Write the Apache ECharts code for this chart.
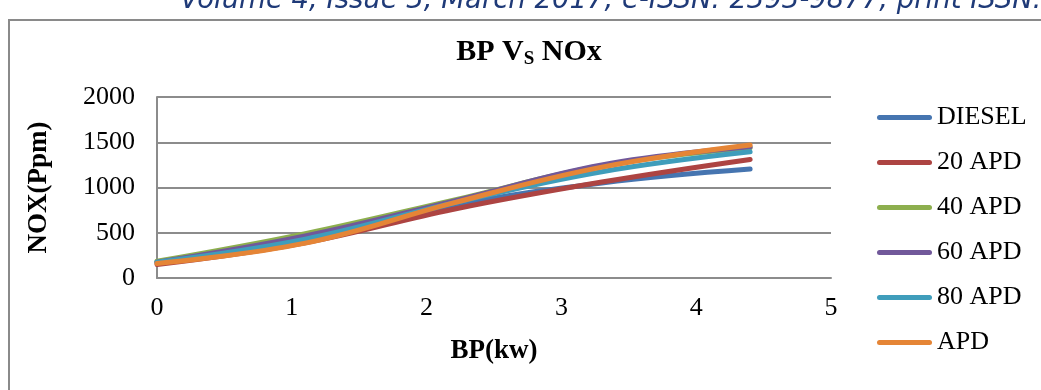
<!DOCTYPE html>
<html>
<head>
<meta charset="utf-8">
<title>BP Vs NOx</title>
<script src="https://cdn.jsdelivr.net/npm/echarts@6/dist/echarts.min.js"></script>
<style>
  html, body { margin: 0; padding: 0; background: #ffffff; }
  #chart { width: 1041px; height: 390px; }
</style>
</head>
<body>
<div id="chart"></div>
<script>
// Brake power (kW) at each load step
const bp = [0, 1.1, 2.2, 3.3, 4.4];

// NOx emissions (ppm) for each fuel blend
const diesel = [170, 420, 800, 1050, 1204];
const apd20  = [150, 390, 760, 1060, 1310];
const apd40  = [185, 490, 860, 1240, 1440];
const apd60  = [175, 465, 850, 1250, 1450];
const apd80  = [175, 430, 830, 1175, 1395];
const apd    = [160, 385, 830, 1225, 1470];

const seriesNames = ['DIESEL', '20 APD', '40 APD', '60 APD', '80 APD', 'APD'];
const seriesValues = [diesel, apd20, apd40, apd60, apd80, apd];
const seriesColors = ['#4675B0', '#AD4442', '#8DAF4E', '#71589A', '#3F9DBB', '#E58536'];

// Axis ticks
const xTicks = [0, 1, 2, 3, 4, 5];
const yTicks = [0, 500, 1000, 1500, 2000];

const serif = '"Liberation Serif", "Times New Roman", serif';
const gridGray = '#8c8c8c';

// Capsule-shaped legend key, like a thick line with round ends
const legendKey = 'path://M2.5,0 L52.5,0 A2.5,2.5 0 0 1 52.5,5 L2.5,5 A2.5,2.5 0 0 1 2.5,0 Z';

const chart = echarts.init(document.getElementById('chart'), null, { renderer: 'canvas' });

chart.setOption({
  animation: false,
  backgroundColor: '#ffffff',
  title: {
    text: 'BP V{s|S} NOx',
    left: 524,
    top: 30,
    textAlign: 'center',
    textStyle: {
      fontFamily: serif,
      fontWeight: 'bold',
      fontSize: 30,
      color: '#000',
      lineHeight: 34,
      rich: {
        s: {
          fontFamily: serif,
          fontWeight: 'bold',
          fontSize: 19,
          lineHeight: 34,
          padding: [15, 0, 0, 0]
        }
      }
    }
  },
  graphic: [
    {
      type: 'rect',
      shape: { x: 9, y: 20, width: 1100, height: 420 },
      style: { fill: 'none', stroke: '#8a8a8a', lineWidth: 2 },
      silent: true
    },
    {
      type: 'text',
      left: 180,
      top: -13,
      style: {
        text: 'Volume 4, Issue 3, March 2017, e-ISSN: 2393-9877, print ISSN: 2394-2444',
        font: 'italic 27.5px "DejaVu Sans", Verdana, sans-serif',
        fill: '#1F3A78'
      },
      silent: true
    }
  ],
  legend: {
    orient: 'vertical',
    left: 877,
    top: 104,
    padding: 0,
    itemWidth: 55,
    itemHeight: 5,
    itemGap: 18,
    icon: legendKey,
    data: seriesNames,
    textStyle: {
      fontFamily: serif,
      fontSize: 26,
      lineHeight: 27,
      color: '#000'
    }
  },
  grid: {
    left: 157,
    right: 210,
    top: 97,
    bottom: 112,
    containLabel: false
  },
  xAxis: {
    type: 'value',
    min: xTicks[0],
    max: xTicks[xTicks.length - 1],
    interval: 1,
    name: 'BP(kw)',
    nameLocation: 'middle',
    nameGap: 60,
    nameTextStyle: { fontFamily: serif, fontWeight: 'bold', fontSize: 27, color: '#000' },
    axisLine: { show: true, lineStyle: { color: gridGray, width: 2 } },
    axisTick: { show: false },
    splitLine: { show: false },
    axisLabel: {
      fontFamily: serif, fontSize: 26, color: '#000', margin: 17,
      formatter: (v) => String(v)
    }
  },
  yAxis: {
    type: 'value',
    min: yTicks[0],
    max: yTicks[yTicks.length - 1],
    interval: 500,
    name: 'NOX(Ppm)',
    nameLocation: 'middle',
    nameGap: 104,
    nameTextStyle: { fontFamily: serif, fontWeight: 'bold', fontSize: 27, color: '#000' },
    axisLine: { show: true, lineStyle: { color: gridGray, width: 2 } },
    axisTick: { show: false },
    splitLine: { show: true, lineStyle: { color: gridGray, width: 2 } },
    axisLabel: {
      fontFamily: serif, fontSize: 26, color: '#000', margin: 22,
      formatter: (v) => String(v)
    }
  },
  series: seriesNames.map((name, i) => ({
    name: name,
    type: 'line',
    smooth: 0.4,
    symbol: 'none',
    color: seriesColors[i],
    lineStyle: { width: 5, color: seriesColors[i], cap: 'round', join: 'round' },
    data: bp.map((x, k) => [x, seriesValues[i][k]])
  }))
});
</script>
</body>
</html>
